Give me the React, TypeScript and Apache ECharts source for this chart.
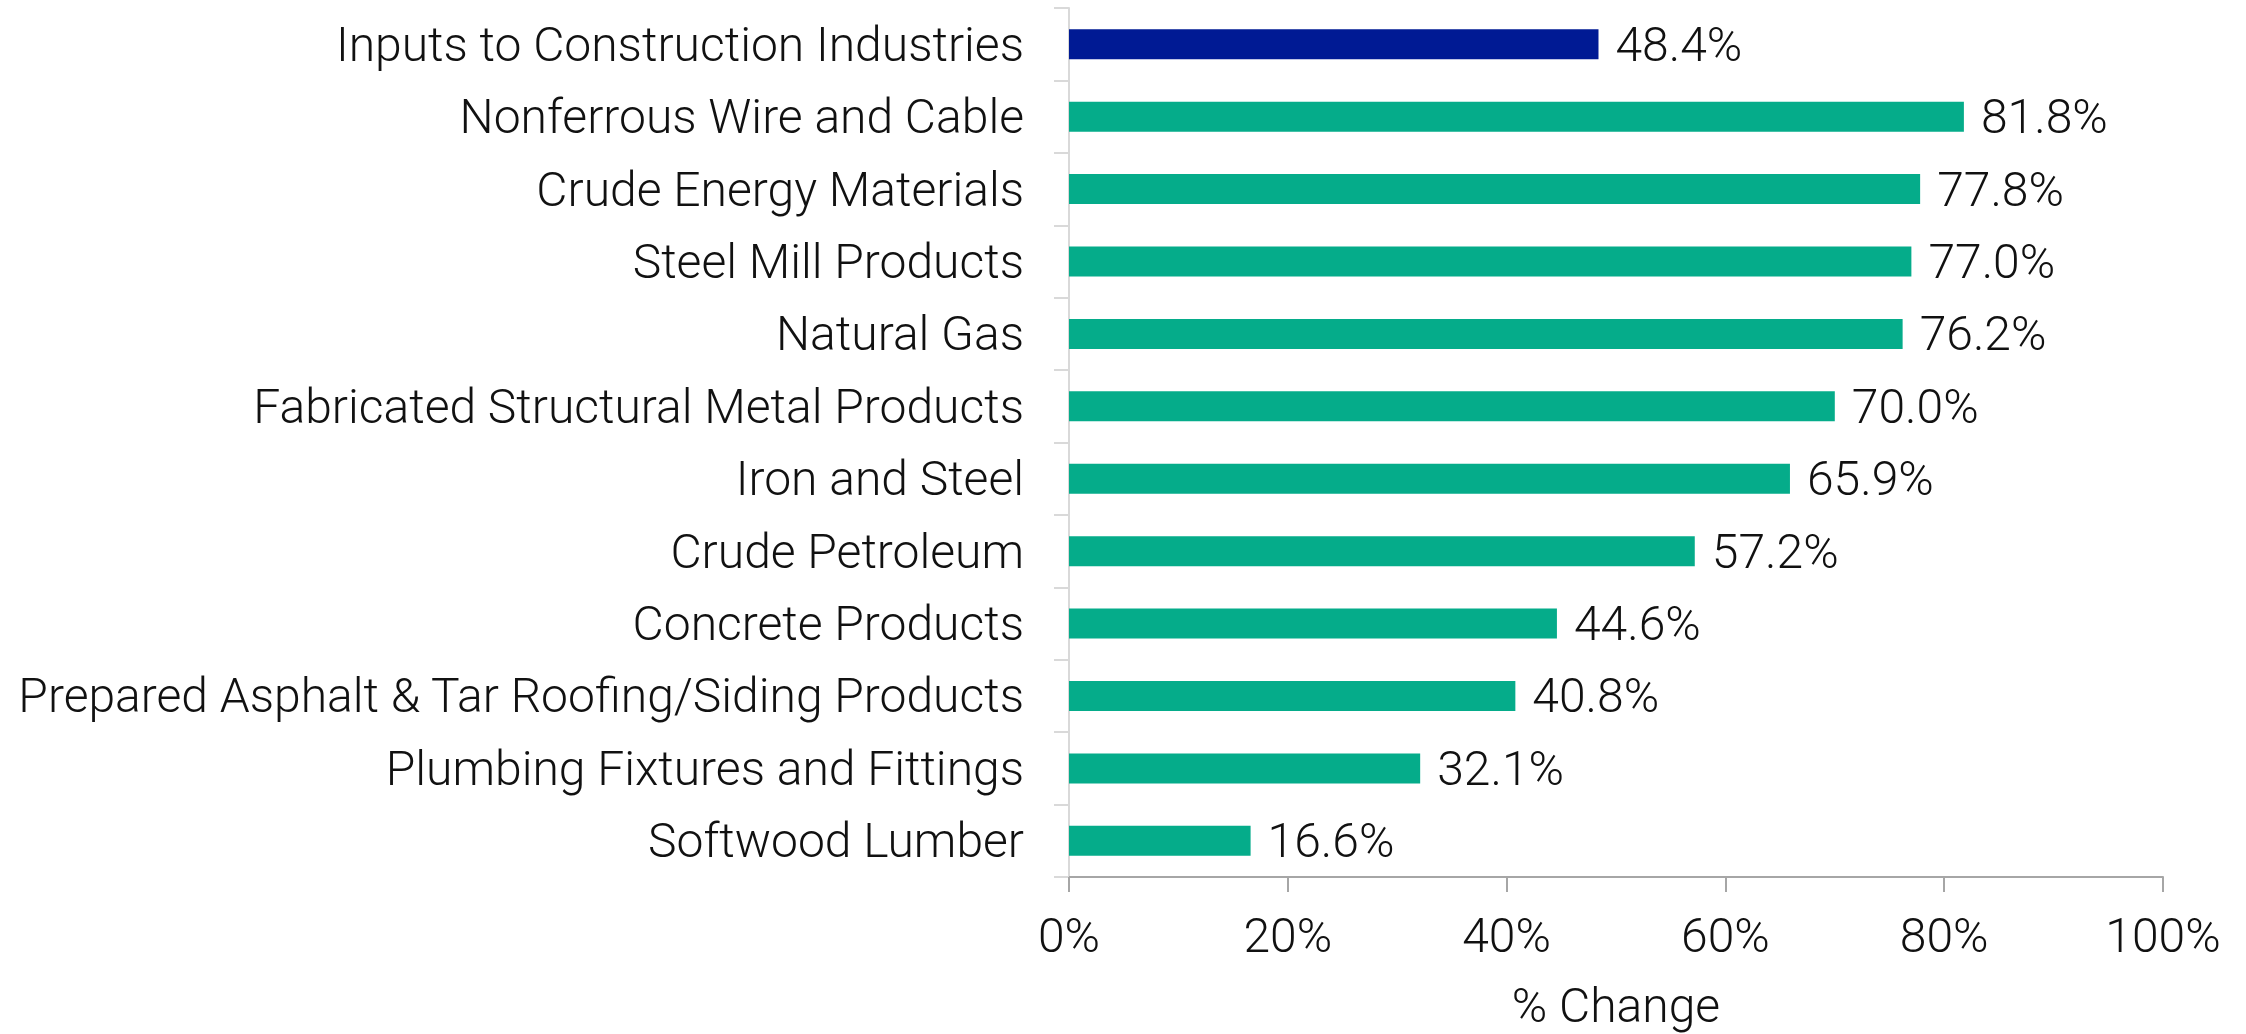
import React, { useEffect, useRef } from "react";
import * as echarts from "echarts";

const categories = [
  "Inputs to Construction Industries",
  "Nonferrous Wire and Cable",
  "Crude Energy Materials",
  "Steel Mill Products",
  "Natural Gas",
  "Fabricated Structural Metal Products",
  "Iron and Steel",
  "Crude Petroleum",
  "Concrete Products",
  "Prepared Asphalt & Tar Roofing/Siding Products",
  "Plumbing Fixtures and Fittings",
  "Softwood Lumber",
];
const values = [48.4, 81.8, 77.8, 77.0, 76.2, 70.0, 65.9, 57.2, 44.6, 40.8, 32.1, 16.6];
const highlightIndex = 0;
const xTicks = [0, 20, 40, 60, 80, 100];

export default function App() {
  const ref = useRef<HTMLDivElement>(null);
  useEffect(() => {
    if (!ref.current) return;
    const chart = echarts.init(ref.current, null, { renderer: "svg" });
    const font = "Roboto";
    chart.setOption({
      animation: false,
      grid: { left: 1069, right: 83, top: 8, bottom: 152, containLabel: false },
      xAxis: {
        type: "value",
        min: xTicks[0],
        max: xTicks[xTicks.length - 1],
        interval: 20,
        name: "% Change",
        nameLocation: "middle",
        nameGap: 104,
        nameTextStyle: { fontFamily: font, fontWeight: 300, fontSize: 48, color: "#111" },
        axisLine: { show: true, lineStyle: { color: "#a6a6a6", width: 2 } },
        axisTick: { show: true, length: 15, lineStyle: { color: "#a6a6a6", width: 2 } },
        splitLine: { show: false },
        axisLabel: {
          formatter: (v: number) => `${v}%`,
          fontFamily: font,
          fontWeight: 300,
          fontSize: 48,
          color: "#111",
          margin: 34,
        },
      },
      yAxis: {
        type: "category",
        data: categories,
        inverse: true,
        axisLine: { show: true, lineStyle: { color: "#d9d9d9", width: 2 } },
        axisTick: { show: true, length: 15, lineStyle: { color: "#d9d9d9", width: 2 } },
        axisLabel: {
          fontFamily: font,
          fontWeight: 300,
          fontSize: 48,
          color: "#111",
          margin: 45,
        },
      },
      series: [
        {
          type: "bar",
          data: values.map((v, i) => ({
            value: v,
            itemStyle: { color: i === highlightIndex ? "#001A94" : "#05AC8A" },
          })),
          barWidth: 30,
          label: {
            show: true,
            position: "right",
            distance: 17,
            formatter: (p: any) => `${p.value.toFixed(1)}%`,
            fontFamily: font,
            fontWeight: 300,
            fontSize: 48,
            color: "#111",
          },
        },
      ],
    });
    return () => chart.dispose();
  }, []);
  return (
    <div
      ref={ref}
      style={{ position: "fixed", left: 0, top: 0, width: 2246, height: 1034 }}
    />
  );
}
